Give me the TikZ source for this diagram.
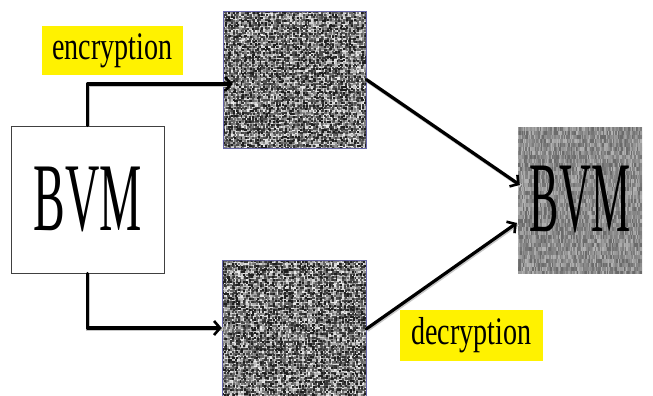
\documentclass[tikz,border=0pt]{standalone}
\usepackage{fontspec}
\setmainfont{Liberation Serif}
\usepackage{graphicx}
\usetikzlibrary{arrows.meta,calc}

% Random grey grain: x0, y0, column blocks (of 6 columns), rows, cell width,
% cell height, min %, max % black. Each cell is a short thick dash; within a
% block of columns the dashes are sorted into ten shade buckets and every
% bucket is stroked as one path.
\newcommand\grainpatch[8]{%
  \pgfmathsetmacro\gpw{#5+0.35}%
  \pgfmathsetmacro\gph{#6+0.35}%
  \foreach \gb in {1,...,#3}{%
    \foreach \k in {0,...,9}{\expandafter\gdef\csname gacc\k\endcsname{}}%
    \foreach \gi in {1,...,6}{%
      \foreach \gj in {1,...,#4}{%
        \pgfmathrandominteger{\gv}{0}{9}%
        \expandafter\xdef\csname gacc\gv\endcsname{\csname gacc\gv\endcsname
          ({#1+((\gb-1)*6+\gi-1)*#5},{#2+(\gj-0.5)*#6}) -- ++(\gpw,0)}%
      }}%
    \foreach \k in {0,...,9}{%
      \pgfmathtruncatemacro\gshade{#7+\k*(#8-#7)/9}%
      \edef\gcmd{\noexpand\draw[black!\gshade, line width=\gph pt]
        \csname gacc\k\endcsname;}%
      \gcmd
    }}}

\tikzset{
  plainbox/.style={draw=black!75, line width=0.9pt, fill=white, inner sep=0pt},
  grainbox/.style={draw=blue!45!black!60, line width=0.5pt, inner sep=0pt},
  tag/.style={fill=yellow, inner sep=0pt},
  conn/.style={line width=3.2pt, line cap=round, line join=round,
    -{Straight Barb[length=6pt,width=14pt,line width=2.6pt]},
    preaction={draw=black!22, line width=4pt, transform canvas={shift={(0.9pt,-0.9pt)}}, -}},
}

\begin{document}
\begin{tikzpicture}[x=1pt, y=-1pt]
  \useasboundingbox (0,0) rectangle (653,396);
  \pgfmathsetseed{4127}

  % grain fills of the two cipher shares and the stacked result
  \begin{scope}
    \clip (223,11) rectangle (366,148);
    \grainpatch{223}{11}{15}{86}{1.6}{1.6}{8}{88}
  \end{scope}
  \begin{scope}
    \clip (222,260) rectangle (366,396);
    \grainpatch{222}{260}{15}{85}{1.6}{1.6}{8}{88}
  \end{scope}
  \begin{scope}
    \clip (518,127) rectangle (642,273);
    \fill[black!44] (518,127) rectangle (642,273);
    \grainpatch{518}{127}{18}{37}{1.2}{4}{30}{58}
  \end{scope}

  % nodes
  \node[plainbox, minimum width=153pt, minimum height=147pt] (bvm) at (87.5,199.5)
    {\scalebox{0.49}[1]{\fontsize{97}{97}\selectfont BVM}};
  \node[grainbox, minimum width=143pt, minimum height=137pt] (enc) at (294.5,79.5) {};
  \node[grainbox, minimum width=144pt, minimum height=136pt] (dec) at (294,328) {};
  \node[inner sep=0pt, minimum width=124pt, minimum height=146pt] (res) at (580,200)
    {\scalebox{0.44}[1]{\fontsize{100}{100}\selectfont BVM}};
  \node[tag, minimum width=141pt, minimum height=49pt] (enclab) at (112.5,50.5)
    {\scalebox{0.72}[1]{\fontsize{39}{39}\selectfont encryption}};
  \node[tag, minimum width=143pt, minimum height=51pt] (declab) at (471.5,335.5)
    {\scalebox{0.72}[1]{\fontsize{39}{39}\selectfont decryption}};

  % connectors
  \draw[conn] (bvm.north) |- ($(enc.west)+(10,4.5)$);
  \draw[conn] (bvm.south) |- (dec.west);
  \draw[conn] (enc.east) -- ($(res.west)+(2,-15)$);
  \draw[conn] ($(dec.east)+(0,1)$) -- ($(res.west)+(-1,23)$);
\end{tikzpicture}
\end{document}
